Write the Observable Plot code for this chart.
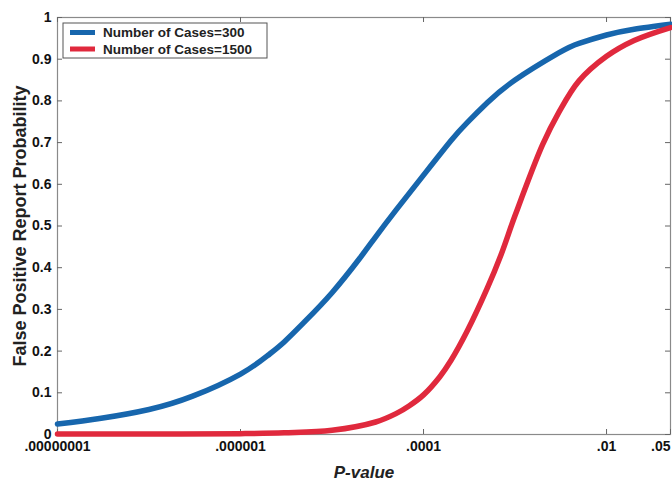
<!DOCTYPE html>
<html>
<head>
<meta charset="utf-8">
<script src="https://cdn.jsdelivr.net/npm/d3@7"></script>
<script src="https://cdn.jsdelivr.net/npm/@observablehq/plot@0.6"></script>
<style>
  html, body { margin: 0; padding: 0; background: #fff; }
  #chart svg { display: block; }
</style>
</head>
<body>
<div id="chart"></div>
<script>
// Series: false positive report probability by P-value
const seriesNames = ["Number of Cases=300", "Number of Cases=1500"];
const seriesColors = ["#1766ad", "#e0293d"];

const pCases300 = [1e-8, 3e-8, 1e-7, 3e-7, 1e-6, 2e-6, 3e-6, 5e-6, 1e-5, 2e-5, 3e-5, 5e-5, 1e-4, 2e-4, 3e-4, 5e-4, 1e-3, 3e-3, 5e-3, 1e-2, 2e-2, 5e-2];
const fprpCases300 = [0.025, 0.039, 0.060, 0.092, 0.145, 0.190, 0.222, 0.270, 0.340, 0.422, 0.474, 0.538, 0.622, 0.705, 0.748, 0.796, 0.850, 0.915, 0.938, 0.958, 0.972, 0.984];

const pCases1500 = [1e-8, 1e-7, 1e-6, 3e-6, 1e-5, 3e-5, 5e-5, 7e-5, 1e-4, 1.5e-4, 2e-4, 3e-4, 5e-4, 7e-4, 1e-3, 2e-3, 3e-3, 5e-3, 1e-2, 2e-2, 5e-2];
const fprpCases1500 = [0.001, 0.001, 0.002, 0.004, 0.010, 0.030, 0.050, 0.069, 0.095, 0.138, 0.178, 0.248, 0.352, 0.430, 0.525, 0.695, 0.772, 0.848, 0.907, 0.945, 0.976];

// Axis ticks and their printed labels
const xTicks = [1e-8, 1e-6, 1e-4, 1e-2, 0.05];
const xTickLabels = [".00000001", ".000001", ".0001", ".01", ".05"];
const yTicks = [0, 0.1, 0.2, 0.3, 0.4, 0.5, 0.6, 0.7, 0.8, 0.9, 1];
const yTickLabels = ["0", "0.1", "0.2", "0.3", "0.4", "0.5", "0.6", "0.7", "0.8", "0.9", "1"];

const xLabel = "P-value";
const yLabel = "False Positive Report Probability";

const rows300 = pCases300.map((p, i) => ({p, fprp: fprpCases300[i]}));
const rows1500 = pCases1500.map((p, i) => ({p, fprp: fprpCases1500[i]}));
const xTickRows = xTicks.map((t, i) => ({t, label: xTickLabels[i]}));

const W = 672, H = 482;
const margin = {top: 17, right: 2, bottom: 48, left: 57};
const innerW = W - margin.left - margin.right;
const innerH = H - margin.top - margin.bottom;
const tickLen = 5;
const font = "'Liberation Sans', Arial, Helvetica, sans-serif";

const yLabelMap = new Map(yTicks.map((t, i) => [t, yTickLabels[i]]));

const chart = Plot.plot({
  width: W,
  height: H,
  marginTop: margin.top,
  marginRight: margin.right,
  marginBottom: margin.bottom,
  marginLeft: margin.left,
  style: {fontFamily: font, fontWeight: "bold", fontSize: "14px", color: "#111", background: "#fff"},
  x: {type: "log", domain: [1e-8, 0.05], axis: null},
  y: {domain: [0, 1], axis: null},
  marks: [
    Plot.frame({stroke: "#8a8a8a", strokeWidth: 1.2}),
    // inward ticks on all four sides
    Plot.tickX(xTicks, {x: d => d, stroke: "#666", insetTop: innerH - tickLen}),
    Plot.tickX(xTicks, {x: d => d, stroke: "#666", insetBottom: innerH - tickLen}),
    Plot.tickY(yTicks, {y: d => d, stroke: "#666", insetRight: innerW - tickLen}),
    Plot.tickY(yTicks, {y: d => d, stroke: "#666", insetLeft: innerW - tickLen}),
    // x tick labels (the last one is kept inside the right edge)
    Plot.text(xTickRows.slice(0, 4), {x: "t", text: "label", frameAnchor: "bottom", lineAnchor: "top", dy: 7, textAnchor: "middle", fontSize: 14, fill: "#111"}),
    Plot.text(xTickRows.slice(4), {x: "t", text: "label", frameAnchor: "bottom", lineAnchor: "top", dy: 7, textAnchor: "end", fontSize: 14, fill: "#111"}),
    Plot.axisY({ticks: yTicks, tickSize: 0, tickPadding: 6, tickFormat: d => yLabelMap.get(d), label: null, fontSize: 14, fill: "#111"}),
    Plot.line(rows300, {x: "p", y: "fprp", stroke: seriesColors[0], strokeWidth: 5.5, curve: "natural"}),
    Plot.line(rows1500, {x: "p", y: "fprp", stroke: seriesColors[1], strokeWidth: 5.5, curve: "catmull-rom"}),
    Plot.text([xLabel], {frameAnchor: "bottom", dy: 31, lineAnchor: "top", textAnchor: "middle", fontSize: 17, fontStyle: "italic", fontWeight: "bold", fill: "#222"}),
    Plot.text([yLabel], {frameAnchor: "left", dx: -37, rotate: -90, textAnchor: "middle", fontSize: 18, fontWeight: "bold", fill: "#222"})
  ]
});

document.getElementById("chart").appendChild(chart);

// Legend box in the upper-left corner of the plot area
const svg = d3.select(chart);
const legend = svg.append("g")
  .attr("transform", `translate(${margin.left + 6},${margin.top + 6})`)
  .attr("text-anchor", "start")
  .style("font-family", font)
  .style("font-weight", "bold")
  .style("font-size", "13.5px");
legend.append("rect")
  .attr("width", 204).attr("height", 35)
  .attr("fill", "#fff").attr("stroke", "#555").attr("stroke-width", 1);
seriesNames.forEach((name, i) => {
  const y = 9.5 + i * 16.5;
  legend.append("line")
    .attr("x1", 7).attr("x2", 32).attr("y1", y).attr("y2", y)
    .attr("stroke", seriesColors[i]).attr("stroke-width", 5);
  legend.append("text")
    .attr("x", 40).attr("y", y).attr("dy", "0.36em")
    .attr("text-anchor", "start")
    .attr("fill", "#222")
    .text(name);
});
</script>
</body>
</html>
